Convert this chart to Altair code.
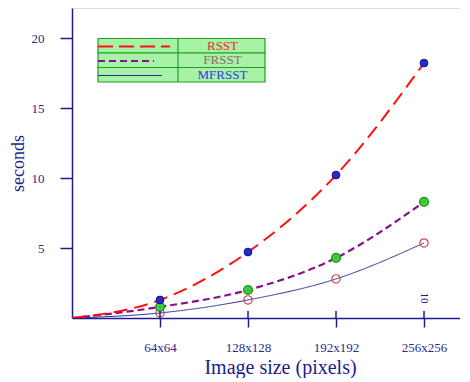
import altair as alt
import pandas as pd

sizes = [0, 64, 128, 192, 256]
rsst = [0, 1.29, 4.71, 10.21, 18.21]
frsst = [0, 0.79, 2.0, 4.29, 8.29]
mfrsst = [0, 0.36, 1.29, 2.79, 5.36]
series = ["RSST", "FRSST", "MFRSST"]
tick_values = [64, 128, 192, 256]
y_ticks = [5, 10, 15, 20]

NAVY = "#1c1c8c"
SERIF = "Liberation Serif"

rows = []
for name, vals in zip(series, [rsst, frsst, mfrsst]):
    for s, v in zip(sizes, vals):
        rows.append({"series": name, "size": s, "sec": v})
df = pd.DataFrame(rows)
pts = df[df["size"] > 0]

W, H = 388, 310
xs = alt.Scale(domain=[0, W / 88 * 64], nice=False, zero=True)
ys = alt.Scale(domain=[0, H / 14], nice=False, zero=True)

label_expr = ("datum.value == 64 ? '64x64' : datum.value == 128 ? '128x128' : "
              "datum.value == 192 ? '192x192' : '256x256'")

xax = alt.Axis(values=tick_values, labelExpr=label_expr, title="Image size (pixels)",
               grid=False, domainColor=NAVY, tickColor=NAVY, tickSize=9, labelPadding=14,
               labelFont=SERIF, labelFontSize=13, labelColor="#2a2a90",
               titleFont=SERIF, titleFontSize=20, titleFontWeight="normal", titleColor=NAVY,
               titlePadding=3, titleX=208, domainWidth=1.5, tickWidth=1.5)
yax = alt.Axis(values=y_ticks, title="seconds", grid=False,
               domainColor=NAVY, tickColor=NAVY, tickSize=12, labelPadding=16,
               labelFont=SERIF, labelFontSize=13, labelColor="#2a2a90",
               titleFont=SERIF, titleFontSize=18, titleFontWeight="normal", titleColor=NAVY,
               titlePadding=4, domainWidth=1.5, tickWidth=1.5)

X = alt.X("size:Q", scale=xs, axis=xax)
Y = alt.Y("sec:Q", scale=ys, axis=yax)


def line(name, color, dash, width):
    return alt.Chart(df[df.series == name]).mark_line(
        color=color, strokeDash=dash, strokeWidth=width, interpolate="monotone", clip=True
    ).encode(x=X, y=Y)


l_rsst = line("RSST", "#ff1010", [14, 7], 2)
l_frsst = line("FRSST", "#8a108a", [7, 4], 2.2)
l_mfrsst = line("MFRSST", "#2a2a9a", [1, 0], 1)

p_rsst = alt.Chart(pts[pts.series == "RSST"]).mark_point(
    shape="circle", filled=True, size=60, color="#2828d0", stroke="#101080", strokeWidth=1, opacity=1
).encode(x=X, y=Y)
p_frsst = alt.Chart(pts[pts.series == "FRSST"]).mark_point(
    shape="circle", filled=True, size=75, color="#40d040", stroke="#18a018", strokeWidth=1.5, opacity=1
).encode(x=X, y=Y)
p_frsst_c = alt.Chart(pts[pts.series == "FRSST"]).mark_point(
    shape="circle", filled=True, size=8, color="#60a060", opacity=1
).encode(x=X, y=Y)
p_mfrsst = alt.Chart(pts[pts.series == "MFRSST"]).mark_point(
    shape="circle", filled=False, size=70, color="#d04848", strokeWidth=1.2, opacity=1
).encode(x=X, y=Y)

# inward part of the x ticks
tick_df = pd.DataFrame({"size": tick_values})
inner_ticks = alt.Chart(tick_df).mark_rule(color=NAVY, strokeWidth=1.5).encode(
    x=X, y=alt.value(H - 7), y2=alt.value(H))

odd_df = pd.DataFrame({"size": [256], "txt": ["10"]})
odd = alt.Chart(odd_df).mark_text(font=SERIF, fontSize=11, angle=90, color=NAVY,
                                  align="center", baseline="middle").encode(
    x=X, y=alt.value(H - 20), text="txt:N")

# legend box (pixel layout via identity scales)
leg_df = pd.DataFrame({"series": series, "row": [0, 1, 2],
                       "tcolor": ["#f02828", "#906868", "#2a3ee0"]})
lx0, lx1, ldiv, ly0, rh = 26, 193, 106, 30.5, 14.5
leg = alt.Chart(leg_df).transform_calculate(
    top=f"{ly0} + datum.row * {rh}",
    bot=f"{ly0} + (datum.row + 1) * {rh}",
    mid=f"{ly0} + (datum.row + 0.5) * {rh}",
    lmid=f"{ly0} + (datum.row + 0.55) * {rh}",
)
box = leg.mark_rect(fill="#a8f2a8", stroke="#20a020", strokeWidth=1.2).encode(
    x=alt.value(lx0), x2=alt.value(lx1),
    y=alt.Y("top:Q", scale=None, axis=None), y2=alt.Y2("bot:Q"))
divider = alt.Chart(tick_df.head(1)).mark_rule(color="#20a020", strokeWidth=1.2).encode(
    x=alt.value(ldiv), y=alt.value(ly0), y2=alt.value(ly0 + 3 * rh))


def leg_line(name, color, dash, width, x2):
    return leg.transform_filter(f"datum.series == '{name}'").mark_rule(
        color=color, strokeDash=dash, strokeWidth=width).encode(
        x=alt.value(lx0), x2=alt.value(x2), y=alt.Y("lmid:Q", scale=None, axis=None))


ll1 = leg_line("RSST", "#ff1010", [15, 6], 2, 98)
ll2 = leg_line("FRSST", "#8a108a", [7, 4], 2, 82)
ll3 = leg_line("MFRSST", "#2a2a9a", [1, 0], 1, 90)

leg_text = leg.mark_text(font=SERIF, fontSize=13, align="center", baseline="middle").encode(
    x=alt.value((ldiv + lx1) / 2 + 1),
    y=alt.Y("mid:Q", scale=None, axis=None),
    text="series:N",
    color=alt.Color("tcolor:N", scale=None),
)

chart = alt.layer(
    l_mfrsst, l_frsst, l_rsst,
    p_mfrsst, p_frsst, p_frsst_c, p_rsst,
    inner_ticks, odd,
    box, divider, ll1, ll2, ll3, leg_text,
).properties(
    width=W, height=H,
    autosize=alt.AutoSizeParams(type="none"),
    padding={"left": 64, "top": 0, "right": 0, "bottom": 60},
).configure_view(stroke=None).configure(background="white")

chart.save("out.html", embed_options={"renderer": "svg", "actions": False})
